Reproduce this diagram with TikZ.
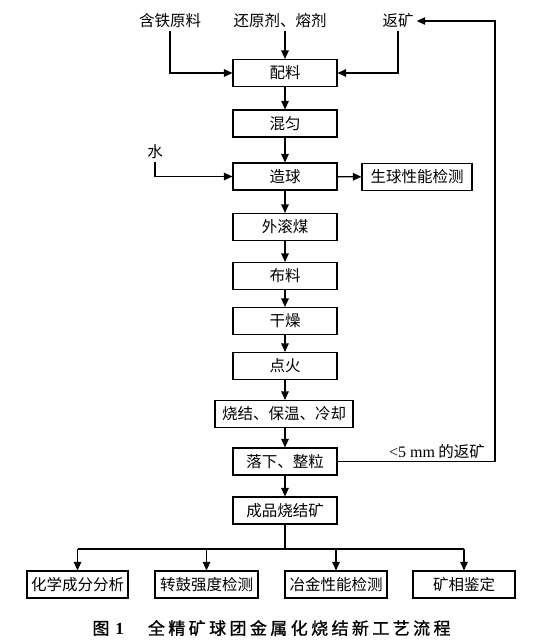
\documentclass[tikz,border=0pt]{standalone}
\usepackage{fontspec}
\setmainfont{Liberation Serif}
\newfontfamily\cjk{Noto Sans CJK SC}
\newfontfamily\captfont[LetterSpace=20,FakeBold=1]{Noto Sans CJK SC}
\usetikzlibrary{arrows.meta}
\tikzset{box/.style={draw, line width=1.1pt, minimum width=104pt, minimum height=27pt, inner sep=0pt, font=\cjk\fontsize{15.5}{18}\selectfont}}
\tikzset{lbl/.style={inner sep=3pt, font=\cjk\fontsize{15.5}{18}\selectfont}}
\tikzset{flow/.style={-{Triangle[length=8.5pt,width=7.5pt]}, line width=1.1pt}}
\tikzset{every picture/.append style={x=1pt, y=-1pt}}

\begin{document}
\begin{tikzpicture}
\useasboundingbox (0,0) rectangle (536,643);
% inputs
\node (hty) at (170,21)[lbl]{含铁原料};
\node (hyj) at (280,21)[lbl]{还原剂、熔剂};
\node (fk) at (398,21)[lbl]{返矿};
\node (water) at (155,152)[lbl]{水};
% main column
\node (pl) at (285,73)[box]{配料};
\node (hy) at (285,123.5)[box]{混匀};
\node (zq) at (285,176.5)[box]{造球};
\node (sq) at (417,177)[box, minimum width=110pt]{生球性能检测};
\node (wgm) at (285,227)[box]{外滚煤};
\node (bl) at (285,276)[box]{布料};
\node (gz) at (285,321)[box]{干燥};
\node (dh) at (285,366)[box]{点火};
\node (sj) at (284,414)[box, minimum width=138pt]{烧结、保温、冷却};
\node (lx) at (285,461.5)[box]{落下、整粒};
\node (cp) at (285,510.5)[box]{成品烧结矿};
\node (fl) at (437,452)[lbl]{{\rmfamily\fontsize{16}{18}\selectfont <5 mm} 的返矿};
% products
\node (hx) at (77.5,584.5)[box, minimum width=101pt]{化学成分分析};
\node (zg) at (206.5,584.5)[box, minimum width=103pt]{转鼓强度检测};
\node (yj) at (336,584.5)[box, minimum width=102pt]{冶金性能检测};
\node (kx) at (464,584.5)[box, minimum width=102pt]{矿相鉴定};
\coordinate (br) at (285,549);

\draw[flow] (hty.south) |- (pl.west);
\draw[flow] (hyj.south -| pl.north) -- (pl.north);
\draw[flow] (fk.south) |- (pl.east);
\draw[flow] (water.south) |- (zq.west);
\draw[flow] (pl) -- (hy);
\draw[flow] (hy) -- (zq);
\draw[flow] (zq) -- (sq);
\draw[flow] (zq) -- (wgm);
\draw[flow] (wgm) -- (bl);
\draw[flow] (bl) -- (gz);
\draw[flow] (gz) -- (dh);
\draw[flow] (dh) -- (sj.north -| dh.south);
\draw[flow] (sj.south -| lx.north) -- (lx);
\draw[flow] (lx) -- (cp);
%return line
\draw[flow] (lx.east) -- (495,461.5) -- (495,21) -- (fk.east);
\draw[line width=1.1pt] (cp.south) -- (br);
\draw[line width=1.1pt] (br -| hx.north) -- (br -| kx.north);
\foreach \b in {hx,zg,yj,kx}
  \draw[flow] (br -| \b.north) -- (\b.north);
\node (cap) at (271.5,628)[inner sep=0pt]{\fontsize{17}{20}\selectfont\captfont 图\hspace{6pt}{\rmfamily\bfseries 1}\hspace{24pt}全精矿球团金属化烧结新工艺流程};
\end{tikzpicture}
\end{document}
